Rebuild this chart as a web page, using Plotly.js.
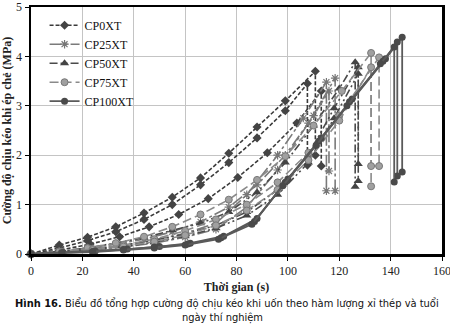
<!DOCTYPE html>
<html>
<head>
<meta charset="utf-8">
<script src="https://cdn.plot.ly/plotly-3.0.1.min.js"></script>
<style>
html,body{margin:0;padding:0;background:#fff;}
#chart{width:450px;height:328px;}
#chart .annotation-text{font-stretch:condensed;}
</style>
</head>
<body>
<div id="chart"></div>
<script>
// Series names
const seriesNames = ["CP0XT", "CP25XT", "CP50XT", "CP75XT", "CP100XT"];

// CP0XT specimens (time s, stress MPa); last point = drop after failure
const cp0_x1 = [0, 11, 22, 33, 44, 55, 66, 77, 88, 99, 110.7, 110.7];
const cp0_y1 = [0, 0.18, 0.34, 0.55, 0.83, 1.15, 1.54, 2.04, 2.57, 3.1, 3.7, 2.0];
const cp0_x2 = [0, 11, 22, 33, 44, 55, 66, 77, 88, 99, 107.6, 107.6];
const cp0_y2 = [0, 0.12, 0.27, 0.45, 0.7, 1.0, 1.4, 1.85, 2.35, 2.9, 3.45, 1.8];
const cp0_x3 = [0, 11.5, 23, 34.5, 46, 57.5, 69, 80.5, 92, 103.5, 113, 113];
const cp0_y3 = [0, 0.08, 0.2, 0.35, 0.55, 0.8, 1.12, 1.55, 2.05, 2.65, 3.3, 1.78];

// CP25XT specimens
const cp25_x1 = [0, 12, 24, 36, 48, 60, 72, 84, 96, 106, 115, 115];
const cp25_y1 = [0, 0.04, 0.1, 0.18, 0.28, 0.42, 0.62, 1.2, 2.0, 2.75, 3.48, 1.28];
const cp25_x2 = [0, 12, 24, 36, 48, 60, 72, 84, 96, 108, 118.4, 118.4];
const cp25_y2 = [0, 0.03, 0.08, 0.14, 0.22, 0.34, 0.5, 0.95, 1.7, 2.65, 3.56, 1.28];
const cp25_x3 = [0, 11, 22, 33, 44, 55, 66, 77, 88, 99, 110, 116, 116];
const cp25_y3 = [0, 0.05, 0.12, 0.2, 0.3, 0.45, 0.65, 0.95, 1.4, 2.0, 2.8, 3.3, 1.68];

// CP50XT specimens
const cp50_x1 = [0, 11, 22, 33, 44, 55, 66, 77, 88, 99, 110, 120, 126.2, 126.2];
const cp50_y1 = [0, 0.05, 0.12, 0.22, 0.33, 0.48, 0.62, 0.85, 1.25, 1.85, 2.6, 3.35, 3.88, 1.36];
const cp50_x2 = [0, 12, 24, 36, 48, 60, 72, 84, 96, 108, 118, 127.4, 127.4];
const cp50_y2 = [0, 0.04, 0.1, 0.18, 0.28, 0.4, 0.58, 0.85, 1.3, 2.0, 2.95, 3.78, 1.48];
const cp50_x3 = [0, 12, 24, 36, 48, 60, 72, 84, 96, 108, 118, 127.4, 127.4];
const cp50_y3 = [0, 0.03, 0.08, 0.15, 0.24, 0.36, 0.52, 0.78, 1.2, 1.85, 2.75, 3.65, 1.82];

// CP75XT specimens
const cp75_x1 = [0, 11, 22, 33, 44, 55, 66, 77, 88, 99, 110, 121, 132.4, 132.4];
const cp75_y1 = [0, 0.05, 0.12, 0.22, 0.35, 0.55, 0.8, 1.1, 1.5, 1.98, 2.6, 3.3, 4.07, 1.37];
const cp75_x2 = [0, 12, 24, 36, 48, 60, 72, 84, 96, 108, 120, 135.5, 135.5];
const cp75_y2 = [0, 0.04, 0.1, 0.18, 0.3, 0.47, 0.7, 1.0, 1.45, 2.05, 2.8, 3.98, 1.78];
const cp75_x3 = [0, 12, 24, 36, 48, 60, 72, 84, 96, 108, 120, 132.4, 132.4];
const cp75_y3 = [0, 0.03, 0.08, 0.15, 0.25, 0.38, 0.58, 0.88, 1.3, 1.9, 2.7, 3.78, 1.78];

// CP100XT specimens
const cp100_x1 = [0, 12.5, 25, 37.5, 50, 62, 75, 88, 100, 113, 125, 138, 144.5, 144.5];
const cp100_y1 = [0, 0.03, 0.06, 0.1, 0.15, 0.22, 0.36, 0.72, 1.52, 2.35, 3.14, 3.95, 4.39, 1.66];
const cp100_x2 = [0, 12, 24, 36, 48, 61, 74, 87, 99, 112, 124, 137, 142.6, 142.6];
const cp100_y2 = [0, 0.02, 0.05, 0.09, 0.14, 0.2, 0.33, 0.66, 1.45, 2.28, 3.08, 3.9, 4.29, 1.58];
const cp100_x3 = [0, 12, 24, 36, 48, 60, 73, 86, 98, 111, 123, 136, 141.4, 141.4];
const cp100_y3 = [0, 0.02, 0.04, 0.08, 0.12, 0.18, 0.3, 0.6, 1.38, 2.2, 3.0, 3.85, 4.19, 1.46];

// Axis ticks
const xTicks = [0, 20, 40, 60, 80, 100, 120, 140, 160];
const yTicks = [0, 1, 2, 3, 4, 5];

const styles = [
  {line: {color: "#3a3a3a", width: 1.6, dash: "4px,2px"}, marker: {symbol: "diamond", size: 7, color: "#444"}},
  {line: {color: "#7a7a7a", width: 1.6, dash: "12px,3px,3px,3px"}, marker: {symbol: "asterisk-open", size: 7, color: "#777", line: {width: 1.2, color: "#777"}}},
  {line: {color: "#4a4a4a", width: 1.6, dash: "8px,3px,2px,3px,2px,3px"}, marker: {symbol: "triangle-up", size: 8, color: "#444"}},
  {line: {color: "#8a8a8a", width: 1.6, dash: "9px,4px"}, marker: {symbol: "circle", size: 7, color: "#a0a0a0", line: {width: 1, color: "#777"}}},
  {line: {color: "#5a5a5a", width: 1.8, dash: "solid"}, marker: {symbol: "circle", size: 7, color: "#4a4a4a"}}
];

const specimens = [
  [[cp0_x1, cp0_y1], [cp0_x2, cp0_y2], [cp0_x3, cp0_y3]],
  [[cp25_x1, cp25_y1], [cp25_x2, cp25_y2], [cp25_x3, cp25_y3]],
  [[cp50_x1, cp50_y1], [cp50_x2, cp50_y2], [cp50_x3, cp50_y3]],
  [[cp75_x1, cp75_y1], [cp75_x2, cp75_y2], [cp75_x3, cp75_y3]],
  [[cp100_x1, cp100_y1], [cp100_x2, cp100_y2], [cp100_x3, cp100_y3]]
];

const traces = [];
specimens.forEach((group, si) => {
  group.forEach((xy, k) => {
    traces.push({
      type: "scatter", mode: "lines+markers",
      x: xy[0], y: xy[1],
      name: seriesNames[si], legendgroup: seriesNames[si], showlegend: k === 0,
      line: styles[si].line, marker: styles[si].marker,
      cliponaxis: false
    });
  });
});

const serif = "Liberation Serif, Times New Roman, serif";
const capFont = "DejaVu Sans Condensed, DejaVu Sans, sans-serif";
const layout = {
  width: 450, height: 328,
  margin: {l: 31, r: 8, t: 7, b: 74},
  paper_bgcolor: "#fff", plot_bgcolor: "#fff",
  showlegend: true,
  legend: {x: 0.033, y: 0.985, xanchor: "left", yanchor: "top", bgcolor: "rgba(255,255,255,0)",
           font: {family: serif, size: 12, color: "#111"}, tracegroupgap: 0},
  xaxis: {
    range: [0, 160], tickvals: xTicks, ticktext: xTicks.map(String),
    showgrid: true, gridcolor: "#c4c4c4", gridwidth: 1, zeroline: false,
    showline: true, linecolor: "#000", linewidth: 2.5, mirror: true,
    ticks: "outside", ticklen: 4, tickcolor: "#000", tickwidth: 1,
    ticklabeloverflow: "allow",
    tickfont: {family: serif, size: 12, color: "#222"},
    title: {text: "<b>Thời gian (s)</b>", font: {family: serif, size: 12, color: "#222"}, standoff: 6}
  },
  yaxis: {
    range: [0, 5], tickvals: yTicks, ticktext: yTicks.map(String),
    showgrid: true, gridcolor: "#c4c4c4", gridwidth: 1, zeroline: false,
    showline: true, linecolor: "#000", linewidth: 2.5, mirror: true,
    ticks: "outside", ticklen: 4, tickcolor: "#000", tickwidth: 1,
    tickfont: {family: serif, size: 12, color: "#222"},
    title: {text: "<b>Cường độ chịu kéo khi ép chẻ (MPa)</b>", font: {family: serif, size: 12, color: "#222"}, standoff: 4}
  },
  annotations: [
    {xref: "paper", yref: "paper", x: 0.476, y: -0.2, xanchor: "center", yanchor: "middle", showarrow: false,
     text: "<b>Hình 16.</b> Biểu đồ tổng hợp cường độ chịu kéo khi uốn theo hàm lượng xỉ thép và tuổi",
     font: {family: capFont, size: 11, color: "#111"}},
    {xref: "paper", yref: "paper", x: 0.466, y: -0.258, xanchor: "center", yanchor: "middle", showarrow: false,
     text: "ngày thí nghiệm",
     font: {family: capFont, size: 11, color: "#111"}}
  ]
};

Plotly.newPlot("chart", traces, layout, {displayModeBar: false, staticPlot: true});
</script>
</body>
</html>
